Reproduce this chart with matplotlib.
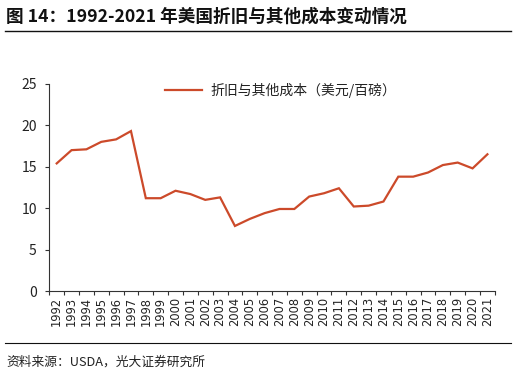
import matplotlib
matplotlib.use("Agg")
import matplotlib.pyplot as plt
from matplotlib.lines import Line2D

plt.rcParams['font.family'] = ['Noto Sans CJK SC', 'DejaVu Sans']

years = list(range(1992, 2022))
year_labels = [str(y) for y in years]
values = [15.4, 17.0, 17.1, 18.0, 18.3, 19.3, 11.2, 11.2, 12.1, 11.7,
          11.0, 11.3, 7.85, 8.7, 9.4, 9.9, 9.9, 11.4, 11.8, 12.4,
          10.2, 10.3, 10.8, 13.8, 13.8, 14.3, 15.2, 15.5, 14.8, 16.5]
series_name = "折旧与其他成本（美元/百磅）"
title = "图 14：1992-2021 年美国折旧与其他成本变动情况"
source = "资料来源：USDA，光大证券研究所"
yticks = [0, 5, 10, 15, 20, 25]

color = "#CC4A2A"

fig = plt.figure(figsize=(5.16, 3.76), dpi=100)
ax = fig.add_axes([0.0955, 0.226, 0.8635, 0.551])

x = list(range(len(years)))
ax.plot(x, values, color=color, lw=1.6, solid_joinstyle='miter')
ax.set_xlim(-0.5, len(years) - 0.5)
ax.set_ylim(0, 25)
ax.set_yticks(yticks)
ax.set_yticklabels([str(v) for v in yticks], fontsize=10, color='#222222')
ax.set_xticks([i - 0.5 for i in range(len(years) + 1)])
ax.set_xticklabels([])
ax.set_xticks(x, minor=True)
ax.set_xticklabels(year_labels, minor=True, rotation=90, fontsize=8.3,
                   family='DejaVu Sans', color='#222222')
ax.tick_params(axis='x', which='minor', length=0, pad=4)
ax.tick_params(axis='x', which='major', length=3, width=0.8, color='#333333')
ax.tick_params(axis='y', length=3, width=0.8, color='#333333', pad=6)
for s in ['top', 'right']:
    ax.spines[s].set_visible(False)
for s in ['left', 'bottom']:
    ax.spines[s].set_color('#333333')
    ax.spines[s].set_linewidth(0.8)

leg = ax.legend([Line2D([0], [0], color=color, lw=1.6)], [series_name],
                loc='upper center', bbox_to_anchor=(0.519, 1.064), frameon=False,
                fontsize=10, handlelength=2.7, handletextpad=0.6)
for t in leg.get_texts():
    t.set_color('#222222')

fig.text(0.012, 0.955, title, fontsize=12.7, fontweight='bold', va='center', ha='left',
         color='#111111')
fig.add_artist(Line2D([0.01, 0.99], [0.917, 0.917], color='#111111', lw=1.0,
                      transform=fig.transFigure))
fig.add_artist(Line2D([0.01, 0.99], [0.088, 0.088], color='#111111', lw=0.8,
                      transform=fig.transFigure))
fig.text(0.012, 0.037, source, fontsize=9.2, va='center', ha='left', color='#222222')

fig.savefig("out.png", dpi=100)
